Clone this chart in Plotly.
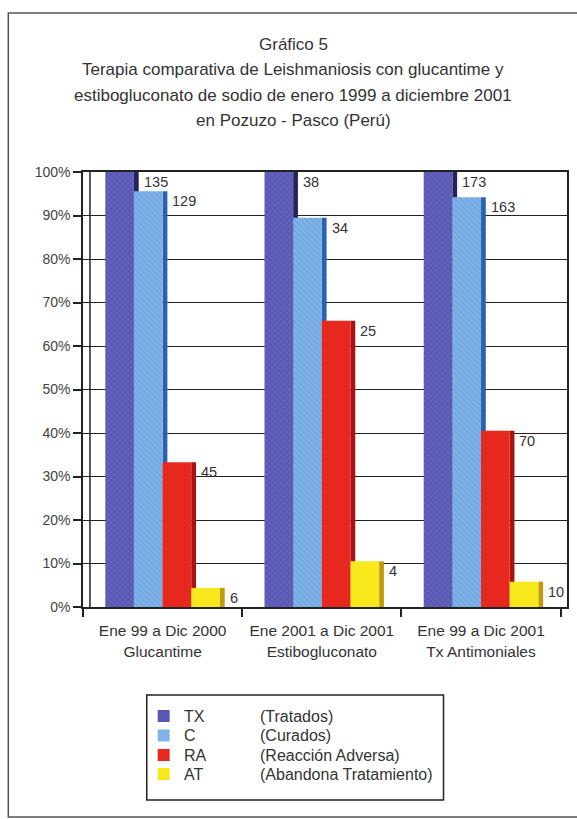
import plotly.graph_objects as go

# ---------------- data ----------------
categories = ["Ene 99 a Dic 2000<br>Glucantime",
              "Ene 2001 a Dic 2001<br>Estibogluconato",
              "Ene 99 a Dic 2001<br>Tx Antimoniales"]
series_codes = ["TX", "C", "RA", "AT"]
series_desc = ["(Tratados)", "(Curados)", "(Reacción Adversa)", "(Abandona Tratamiento)"]

# counts shown as labels
counts_tx = [135, 38, 173]
counts_c = [129, 34, 163]
counts_ra = [45, 25, 70]
counts_at = [6, 4, 10]

# percentages (bar heights)
pct_tx = [100, 100, 100]
pct_c = [95.6, 89.5, 94.2]
pct_ra = [33.3, 65.8, 40.5]
pct_at = [4.4, 10.5, 5.8]

title_lines = ["Gráfico 5",
               "Terapia comparativa de Leishmaniosis con glucantime y",
               "estibogluconato de sodio de enero 1999 a diciembre 2001",
               "en Pozuzo - Pasco (Perú)"]

# ---------------- styling ----------------
FONT = "Liberation Sans"
TXT = "#333333"
AX = "#222222"
W, H = 577, 819
L, R, T, B = 83, 8, 172, 212
PW, PH = W - L - R, H - T - B


def px_x(x):
    return (x - L) / PW


def px_y(y):
    return (H - B - y) / PH


front_cols = ["#5858b4", "#80b4e8", "#e6281e", "#f6e81a"]
side_cols = ["#24245c", "#2a62b0", "#a81212", "#c29a10"]
patterns = [dict(shape="x", fgcolor="#8484d4", size=4, solidity=0.3),
            dict(shape="\\", fgcolor="#5a94d4", size=4, solidity=0.35),
            dict(shape=""),
            dict(shape="")]

values = [pct_tx, pct_c, pct_ra, pct_at]
counts = [counts_tx, counts_c, counts_ra, counts_at]

bw = 0.18      # front width (category units)
depth = 0.03   # side depth
offsets = [-0.36, -0.18, 0.0, 0.18]
xs = [0, 1, 2]

fig = go.Figure()
annotations = []
for k in range(4):
    # side face
    fig.add_trace(go.Bar(x=xs, y=values[k], width=depth, offset=offsets[k] + bw,
                         marker=dict(color=side_cols[k], line=dict(width=0)),
                         showlegend=False, hoverinfo="skip"))
    # front face
    fig.add_trace(go.Bar(x=xs, y=values[k], width=bw, offset=offsets[k],
                         name=series_codes[k],
                         marker=dict(color=front_cols[k], line=dict(width=0),
                                     pattern=patterns[k]),
                         showlegend=False))
    for i in range(3):
        annotations.append(dict(x=xs[i] + offsets[k] + bw + depth, y=values[k][i],
                                xref="x", yref="y", text=str(counts[k][i]),
                                xanchor="left", yanchor="top", xshift=3, yshift=0,
                                showarrow=False,
                                font=dict(family=FONT, size=14.5, color=TXT)))

# title lines
title_y = [45, 70, 95.5, 120.5]
for t, yy in zip(title_lines, title_y):
    annotations.append(dict(x=px_x(294), y=px_y(yy), xref="paper", yref="paper",
                            text=t, showarrow=False, xanchor="center", yanchor="middle",
                            font=dict(family=FONT, size=17, color=TXT)))

# manual legend
shapes = []
leg_rows = [716, 735.5, 755, 774]
for k in range(4):
    yy = leg_rows[k]
    shapes.append(dict(type="rect", xref="paper", yref="paper",
                       x0=px_x(158), x1=px_x(170), y0=px_y(yy - 6), y1=px_y(yy + 6),
                       fillcolor=front_cols[k], line=dict(width=0)))
    annotations.append(dict(x=px_x(182), y=px_y(yy), xref="paper", yref="paper",
                            text=series_codes[k], showarrow=False, xanchor="left",
                            yanchor="middle", font=dict(family=FONT, size=16, color=TXT)))
    annotations.append(dict(x=px_x(259), y=px_y(yy), xref="paper", yref="paper",
                            text=series_desc[k], showarrow=False, xanchor="left",
                            yanchor="middle", font=dict(family=FONT, size=16, color=TXT)))
shapes.append(dict(type="rect", xref="paper", yref="paper",
                   x0=px_x(147), x1=px_x(445), y0=px_y(695), y1=px_y(800),
                   line=dict(color=AX, width=1.5), fillcolor="rgba(0,0,0,0)"))

# back-wall left edge
shapes.append(dict(type="line", xref="paper", yref="paper",
                   x0=px_x(90), x1=px_x(90), y0=0, y1=1,
                   line=dict(color=AX, width=1.5)))
# page frame
shapes.append(dict(type="rect", xref="paper", yref="paper",
                   x0=px_x(8), x1=px_x(600), y0=px_y(13), y1=px_y(817),
                   line=dict(color="#555555", width=1.5), fillcolor="rgba(0,0,0,0)"))

fig.update_layout(
    width=W, height=H,
    margin=dict(l=L, r=R, t=T, b=B, pad=0),
    paper_bgcolor="white", plot_bgcolor="white",
    barmode="overlay",
    showlegend=False,
    annotations=annotations,
    shapes=shapes,
    font=dict(family=FONT, color=TXT),
    xaxis=dict(range=[-0.5, 2.54], tickmode="array", tickvals=xs, ticktext=categories,
               ticks="", showgrid=False, zeroline=False,
               showline=True, linecolor=AX, linewidth=1.5, mirror=True,
               tickfont=dict(family=FONT, size=15.5, color=TXT),
               ticklabelstandoff=9,
               minor=dict(tickmode="array", tickvals=[-0.5, 0.5, 1.5, 2.5],
                          ticks="outside", ticklen=8, tickwidth=1.5, tickcolor=AX,
                          showgrid=False)),
    yaxis=dict(range=[0, 100], tickmode="linear", tick0=0, dtick=10, ticksuffix="%",
               ticks="outside", ticklen=8, tickwidth=1.5, tickcolor=AX,
               showgrid=True, gridcolor=AX, gridwidth=1.3, zeroline=False,
               showline=True, linecolor=AX, linewidth=1.5, mirror=True,
               tickfont=dict(family=FONT, size=14, color="#444444")),
)

fig.write_html("out.html")
